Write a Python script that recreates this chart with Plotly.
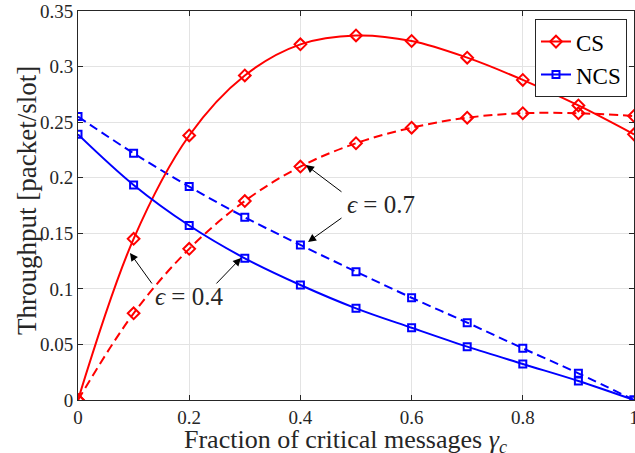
import plotly.graph_objects as go

x_vals = [0.0, 0.1, 0.2, 0.3, 0.4, 0.5, 0.6, 0.7, 0.8, 0.9, 1.0]
cs_eps04 = [0.0, 0.145, 0.238, 0.292, 0.320, 0.328, 0.323, 0.308, 0.288, 0.265, 0.239]
cs_eps07 = [0.0, 0.078, 0.136, 0.179, 0.210, 0.231, 0.245, 0.254, 0.258, 0.258, 0.2555]
ncs_eps04 = [0.239, 0.1935, 0.157, 0.1275, 0.1035, 0.0825, 0.065, 0.048, 0.0324, 0.0171, 0.0]
ncs_eps07 = [0.255, 0.222, 0.192, 0.1644, 0.1395, 0.1155, 0.092, 0.0696, 0.0465, 0.024, 0.0]

x_ticks = [0, 0.2, 0.4, 0.6, 0.8, 1]
x_tick_labels = ["0", "0.2", "0.4", "0.6", "0.8", "1"]
y_ticks = [0, 0.05, 0.1, 0.15, 0.2, 0.25, 0.3, 0.35]
y_tick_labels = ["0", "0.05", "0.1", "0.15", "0.2", "0.25", "0.3", "0.35"]

RED = "#ff0000"
BLUE = "#0000ff"
FONT = "Liberation Serif"

fig = go.Figure()
fig.add_trace(go.Scatter(x=x_vals, y=cs_eps07, mode="lines+markers", showlegend=False,
                         line=dict(color=RED, width=2, dash="9px,5px", shape="spline", smoothing=1.0),
                         marker=dict(symbol="diamond-open", size=9, color=RED, line=dict(width=2))))
fig.add_trace(go.Scatter(x=x_vals, y=ncs_eps07, mode="lines+markers", showlegend=False,
                         line=dict(color=BLUE, width=2, dash="9px,5px", shape="spline", smoothing=1.0),
                         marker=dict(symbol="square-open", size=7, color=BLUE, line=dict(width=2))))
fig.add_trace(go.Scatter(x=x_vals, y=cs_eps04, mode="lines+markers", name="CS",
                         line=dict(color=RED, width=2, shape="spline", smoothing=1.0),
                         marker=dict(symbol="diamond-open", size=9, color=RED, line=dict(width=2))))
fig.add_trace(go.Scatter(x=x_vals, y=ncs_eps04, mode="lines+markers", name="NCS",
                         line=dict(color=BLUE, width=2, shape="spline", smoothing=1.0),
                         marker=dict(symbol="square-open", size=7, color=BLUE, line=dict(width=2))))

axis_common = dict(showline=True, linecolor="#262626", linewidth=1, mirror="ticks",
                   ticks="inside", ticklen=5, tickcolor="#262626", automargin=False,
                   ticklabeloverflow="allow",
                   showgrid=True, gridcolor="#e3e3e3", gridwidth=1, zeroline=False,
                   tickfont=dict(family=FONT, size=19, color="#262626"))

fig.update_layout(
    width=635, height=453,
    margin=dict(l=78, r=1, t=11, b=53),
    paper_bgcolor="white", plot_bgcolor="white",
    font=dict(family=FONT, color="#262626"),
    xaxis=dict(range=[0, 1], tickvals=x_ticks, ticktext=x_tick_labels,
               ticklabelstandoff=0, **axis_common),
    yaxis=dict(range=[0, 0.35], tickvals=y_ticks, ticktext=y_tick_labels, **axis_common),
    legend=dict(x=0.9874, y=0.979, xanchor="right", yanchor="top",
                bgcolor="white", bordercolor="#262626", borderwidth=1,
                font=dict(family=FONT, size=23, color="black"),
                tracegroupgap=0, itemwidth=30),
)

# axis titles
fig.add_annotation(x=0.481, y=-0.106, xref="paper", yref="paper", showarrow=False,
                   text="Fraction of critical messages <i>γ</i><sub><i>c</i></sub>",
                   font=dict(family=FONT, size=26, color="#262626"), xanchor="center", yanchor="middle")
fig.add_annotation(x=-0.0917, y=0.5116, xref="paper", yref="paper", showarrow=False,
                   text="Throughput [packet/slot]", textangle=-90,
                   font=dict(family=FONT, size=27, color="#262626"), xanchor="center", yanchor="middle")

arrows = [
    (0.410, 0.2114, 0.4766, 0.1863),
    (0.4137, 0.1422, 0.4766, 0.1647),
    (0.0935, 0.1323, 0.1349, 0.1035),
    (0.2932, 0.1278, 0.2464, 0.1035),
]
for (hx, hy, tx, ty) in arrows:
    fig.add_annotation(x=hx, y=hy, ax=tx, ay=ty, xref="x", yref="y", axref="x", ayref="y",
                       text="", showarrow=True, arrowhead=2, arrowsize=1.6, arrowwidth=1,
                       arrowcolor="black", standoff=0, startstandoff=0)

fig.add_annotation(x=0.545, y=0.1755, xref="x", yref="y", text="<i>ϵ</i> = 0.7", showarrow=False,
                   font=dict(family=FONT, size=25, color="#262626"))
fig.add_annotation(x=0.1996, y=0.0927, xref="x", yref="y", text="<i>ϵ</i> = 0.4", showarrow=False,
                   font=dict(family=FONT, size=25, color="#262626"))

fig.write_html("out.html", config={"displayModeBar": False},
               post_script="document.body.style.margin='0px';")
